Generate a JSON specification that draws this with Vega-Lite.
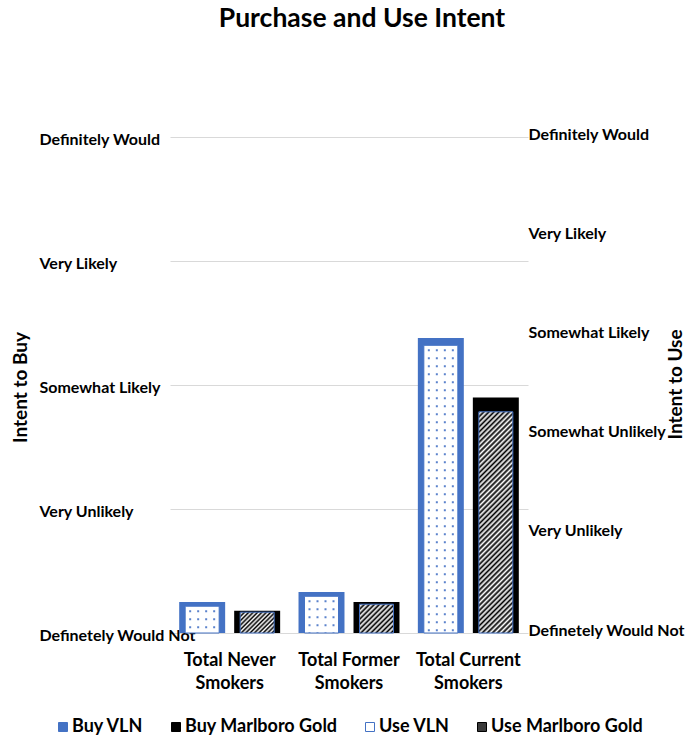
{
  "$schema": "https://vega.github.io/schema/vega-lite/v6.json",
  "autosize": "none",
  "width": 358,
  "height": 496,
  "padding": {"left": 170, "top": 137, "right": 157, "bottom": 105},
  "background": "white",
  "title": {"text": "Purchase and Use Intent", "anchor": "middle", "dx": 13, "offset": 94, "font": "Lato", "fontSize": 26.5, "fontWeight": "bold", "color": "#000000"},
  "data": {"values": [
    {"group": "Total Never Smokers", "brand": "VLN", "measure": "Buy", "series": "Buy VLN", "value": 0.25},
    {"group": "Total Former Smokers", "brand": "VLN", "measure": "Buy", "series": "Buy VLN", "value": 0.33},
    {"group": "Total Current Smokers", "brand": "VLN", "measure": "Buy", "series": "Buy VLN", "value": 2.38},
    {"group": "Total Never Smokers", "brand": "Marlboro Gold", "measure": "Buy", "series": "Buy Marlboro Gold", "value": 0.18},
    {"group": "Total Former Smokers", "brand": "Marlboro Gold", "measure": "Buy", "series": "Buy Marlboro Gold", "value": 0.25},
    {"group": "Total Current Smokers", "brand": "Marlboro Gold", "measure": "Buy", "series": "Buy Marlboro Gold", "value": 1.90},
    {"group": "Total Never Smokers", "brand": "VLN", "measure": "Use", "series": "Use VLN", "value": 0.27},
    {"group": "Total Former Smokers", "brand": "VLN", "measure": "Use", "series": "Use VLN", "value": 0.37},
    {"group": "Total Current Smokers", "brand": "VLN", "measure": "Use", "series": "Use VLN", "value": 2.90},
    {"group": "Total Never Smokers", "brand": "Marlboro Gold", "measure": "Use", "series": "Use Marlboro Gold", "value": 0.21},
    {"group": "Total Former Smokers", "brand": "Marlboro Gold", "measure": "Use", "series": "Use Marlboro Gold", "value": 0.29},
    {"group": "Total Current Smokers", "brand": "Marlboro Gold", "measure": "Use", "series": "Use Marlboro Gold", "value": 2.23}
  ]},
  "encoding": {
    "x": {
      "field": "group", "type": "nominal",
      "sort": ["Total Never Smokers", "Total Former Smokers", "Total Current Smokers"],
      "scale": {"paddingInner": 0, "paddingOuter": 0},
      "axis": {"title": null, "domain": false, "ticks": false, "tickSize": 0, "labelAngle": 0, "labelPadding": 18, "labelBaseline": "top", "labelLineHeight": 23, "labelFont": "Lato", "labelFontSize": 18, "labelFontWeight": "bold", "labelColor": "#000000",
        "labelExpr": "[replace(datum.label, ' Smokers', ''), 'Smokers']"}
    }
  },
  "layer": [
    {
      "transform": [{"filter": "datum.measure === 'Buy'"}],
      "mark": {"type": "bar", "strokeWidth": 0},
      "encoding": {
        "xOffset": {"field": "brand", "type": "nominal", "sort": ["VLN", "Marlboro Gold"], "scale": {"paddingInner": 0.164, "paddingOuter": 0.167}},
        "y": {"field": "value", "type": "quantitative", "scale": {"domain": [0, 4], "nice": false, "zero": true},
          "axis": {"orient": "left", "values": [0, 1, 2, 3, 4], "grid": true, "gridColor": "#d9d9d9", "gridWidth": 1, "domain": false, "ticks": false, "tickSize": 0,
            "labelAlign": "left", "labelPadding": 131, "labelOffset": 2, "labelBaseline": "middle", "labelFont": "Lato", "labelFontSize": 16, "labelFontWeight": "bold", "labelColor": "#000000",
            "labelExpr": "['Definetely Would Not', 'Very Unlikely', 'Somewhat Likely', 'Very Likely', 'Definitely Would'][datum.value]",
            "title": "Intent to Buy", "titleFont": "Lato", "titleFontSize": 19, "titleFontWeight": "bold", "titleColor": "#000000", "titleAngle": 270, "titleX": -150, "titleY": 250, "titleAlign": "center", "titleBaseline": "middle"}},
        "fill": {"field": "series", "type": "nominal",
          "scale": {"domain": ["Buy VLN", "Buy Marlboro Gold", "Use VLN", "Use Marlboro Gold"], "range": ["#4472C4", "#000000", "#ffffff", "#3a3a3a"]},
          "legend": {"title": null}},
        "stroke": {"field": "series", "type": "nominal",
          "scale": {"domain": ["Buy VLN", "Buy Marlboro Gold", "Use VLN", "Use Marlboro Gold"], "range": ["#4472C4", "#000000", "#4472C4", "#000000"]},
          "legend": {"title": null}}
      }
    },
    {
      "transform": [{"filter": "datum.measure === 'Use'"}],
      "encoding": {
        "y": {"field": "value", "type": "quantitative", "scale": {"domain": [0, 5], "nice": false, "zero": true},
          "axis": {"orient": "right", "values": [0, 1, 2, 3, 4, 5], "grid": false, "domain": false, "ticks": false, "tickSize": 0,
            "labelAlign": "left", "labelPadding": 0, "labelOffset": -3, "labelBaseline": "middle", "labelFont": "Lato", "labelFontSize": 16, "labelFontWeight": "bold", "labelColor": "#000000",
            "labelExpr": "['Definetely Would Not', 'Very Unlikely', 'Somewhat Unlikely', 'Somewhat Likely', 'Very Likely', 'Definitely Would'][datum.value]",
            "title": "Intent to Use", "titleFont": "Lato", "titleFontSize": 19, "titleFontWeight": "bold", "titleColor": "#000000", "titleAngle": 270, "titleX": 147, "titleY": 247, "titleAlign": "center", "titleBaseline": "middle"}}
      },
      "layer": [
        {
          "mark": {"type": "bar", "width": 34, "strokeWidth": 1},
          "encoding": {
            "xOffset": {"field": "brand", "type": "nominal", "sort": ["VLN", "Marlboro Gold"]},
            "fill": {"field": "series", "type": "nominal",
              "condition": [
                {"test": "datum.series === 'Use Marlboro Gold' && datum.group === 'Total Never Smokers'",
                 "value": {"gradient": "linear", "x1": 0, "y1": 0, "x2": 1.173, "y2": 0.7175, "stops": [
                   {"offset": 0, "color": "#000"}, {"offset": 0.04, "color": "#fff"}, {"offset": 0.08, "color": "#000"}, {"offset": 0.12, "color": "#fff"},
                   {"offset": 0.16, "color": "#000"}, {"offset": 0.2, "color": "#fff"}, {"offset": 0.24, "color": "#000"}, {"offset": 0.28, "color": "#fff"},
                   {"offset": 0.32, "color": "#000"}, {"offset": 0.36, "color": "#fff"}, {"offset": 0.4, "color": "#000"}, {"offset": 0.44, "color": "#fff"},
                   {"offset": 0.48, "color": "#000"}, {"offset": 0.52, "color": "#fff"}, {"offset": 0.56, "color": "#000"}, {"offset": 0.6, "color": "#fff"},
                   {"offset": 0.64, "color": "#000"}, {"offset": 0.68, "color": "#fff"}, {"offset": 0.72, "color": "#000"}, {"offset": 0.76, "color": "#fff"},
                   {"offset": 0.8, "color": "#000"}, {"offset": 0.84, "color": "#fff"}, {"offset": 0.88, "color": "#000"}, {"offset": 0.92, "color": "#fff"},
                   {"offset": 0.96, "color": "#000"}, {"offset": 1, "color": "#fff"}]}},
                {"test": "datum.series === 'Use Marlboro Gold' && datum.group === 'Total Former Smokers'",
                 "value": {"gradient": "linear", "x1": 0, "y1": 0, "x2": 1.0759, "y2": 0.9103, "stops": [
                   {"offset": 0, "color": "#000"}, {"offset": 0.04, "color": "#fff"}, {"offset": 0.08, "color": "#000"}, {"offset": 0.12, "color": "#fff"},
                   {"offset": 0.16, "color": "#000"}, {"offset": 0.2, "color": "#fff"}, {"offset": 0.24, "color": "#000"}, {"offset": 0.28, "color": "#fff"},
                   {"offset": 0.32, "color": "#000"}, {"offset": 0.36, "color": "#fff"}, {"offset": 0.4, "color": "#000"}, {"offset": 0.44, "color": "#fff"},
                   {"offset": 0.48, "color": "#000"}, {"offset": 0.52, "color": "#fff"}, {"offset": 0.56, "color": "#000"}, {"offset": 0.6, "color": "#fff"},
                   {"offset": 0.64, "color": "#000"}, {"offset": 0.68, "color": "#fff"}, {"offset": 0.72, "color": "#000"}, {"offset": 0.76, "color": "#fff"},
                   {"offset": 0.8, "color": "#000"}, {"offset": 0.84, "color": "#fff"}, {"offset": 0.88, "color": "#000"}, {"offset": 0.92, "color": "#fff"},
                   {"offset": 0.96, "color": "#000"}, {"offset": 1, "color": "#fff"}]}},
                {"test": "datum.series === 'Use Marlboro Gold' && datum.group === 'Total Current Smokers'",
                 "value": {"gradient": "linear", "x1": 0, "y1": 0, "x2": 0.1733, "y2": 1.1271, "stops": [
                   {"offset": 0, "color": "#000"}, {"offset": 0.01, "color": "#fff"}, {"offset": 0.02, "color": "#000"}, {"offset": 0.03, "color": "#fff"},
                   {"offset": 0.04, "color": "#000"}, {"offset": 0.05, "color": "#fff"}, {"offset": 0.06, "color": "#000"}, {"offset": 0.07, "color": "#fff"},
                   {"offset": 0.08, "color": "#000"}, {"offset": 0.09, "color": "#fff"}, {"offset": 0.1, "color": "#000"}, {"offset": 0.11, "color": "#fff"},
                   {"offset": 0.12, "color": "#000"}, {"offset": 0.13, "color": "#fff"}, {"offset": 0.14, "color": "#000"}, {"offset": 0.15, "color": "#fff"},
                   {"offset": 0.16, "color": "#000"}, {"offset": 0.17, "color": "#fff"}, {"offset": 0.18, "color": "#000"}, {"offset": 0.19, "color": "#fff"},
                   {"offset": 0.2, "color": "#000"}, {"offset": 0.21, "color": "#fff"}, {"offset": 0.22, "color": "#000"}, {"offset": 0.23, "color": "#fff"},
                   {"offset": 0.24, "color": "#000"}, {"offset": 0.25, "color": "#fff"}, {"offset": 0.26, "color": "#000"}, {"offset": 0.27, "color": "#fff"},
                   {"offset": 0.28, "color": "#000"}, {"offset": 0.29, "color": "#fff"}, {"offset": 0.3, "color": "#000"}, {"offset": 0.31, "color": "#fff"},
                   {"offset": 0.32, "color": "#000"}, {"offset": 0.33, "color": "#fff"}, {"offset": 0.34, "color": "#000"}, {"offset": 0.35, "color": "#fff"},
                   {"offset": 0.36, "color": "#000"}, {"offset": 0.37, "color": "#fff"}, {"offset": 0.38, "color": "#000"}, {"offset": 0.39, "color": "#fff"},
                   {"offset": 0.4, "color": "#000"}, {"offset": 0.41, "color": "#fff"}, {"offset": 0.42, "color": "#000"}, {"offset": 0.43, "color": "#fff"},
                   {"offset": 0.44, "color": "#000"}, {"offset": 0.45, "color": "#fff"}, {"offset": 0.46, "color": "#000"}, {"offset": 0.47, "color": "#fff"},
                   {"offset": 0.48, "color": "#000"}, {"offset": 0.49, "color": "#fff"}, {"offset": 0.5, "color": "#000"}, {"offset": 0.51, "color": "#fff"},
                   {"offset": 0.52, "color": "#000"}, {"offset": 0.53, "color": "#fff"}, {"offset": 0.54, "color": "#000"}, {"offset": 0.55, "color": "#fff"},
                   {"offset": 0.56, "color": "#000"}, {"offset": 0.57, "color": "#fff"}, {"offset": 0.58, "color": "#000"}, {"offset": 0.59, "color": "#fff"},
                   {"offset": 0.6, "color": "#000"}, {"offset": 0.61, "color": "#fff"}, {"offset": 0.62, "color": "#000"}, {"offset": 0.63, "color": "#fff"},
                   {"offset": 0.64, "color": "#000"}, {"offset": 0.65, "color": "#fff"}, {"offset": 0.66, "color": "#000"}, {"offset": 0.67, "color": "#fff"},
                   {"offset": 0.68, "color": "#000"}, {"offset": 0.69, "color": "#fff"}, {"offset": 0.7, "color": "#000"}, {"offset": 0.71, "color": "#fff"},
                   {"offset": 0.72, "color": "#000"}, {"offset": 0.73, "color": "#fff"}, {"offset": 0.74, "color": "#000"}, {"offset": 0.75, "color": "#fff"},
                   {"offset": 0.76, "color": "#000"}, {"offset": 0.77, "color": "#fff"}, {"offset": 0.78, "color": "#000"}, {"offset": 0.79, "color": "#fff"},
                   {"offset": 0.8, "color": "#000"}, {"offset": 0.81, "color": "#fff"}, {"offset": 0.82, "color": "#000"}, {"offset": 0.83, "color": "#fff"},
                   {"offset": 0.84, "color": "#000"}, {"offset": 0.85, "color": "#fff"}, {"offset": 0.86, "color": "#000"}, {"offset": 0.87, "color": "#fff"},
                   {"offset": 0.88, "color": "#000"}, {"offset": 0.89, "color": "#fff"}, {"offset": 0.9, "color": "#000"}, {"offset": 0.91, "color": "#fff"},
                   {"offset": 0.92, "color": "#000"}, {"offset": 0.93, "color": "#fff"}, {"offset": 0.94, "color": "#000"}, {"offset": 0.95, "color": "#fff"},
                   {"offset": 0.96, "color": "#000"}, {"offset": 0.97, "color": "#fff"}, {"offset": 0.98, "color": "#000"}, {"offset": 0.99, "color": "#fff"},
                   {"offset": 1, "color": "#000"}]}}
              ]},
            "stroke": {"field": "series", "type": "nominal",
              "condition": {"test": "datum.series === 'Use Marlboro Gold'", "value": "#4472C4"}}
          }
        },
        {
          "transform": [{"filter": "datum.series === 'Use VLN'"}],
          "mark": {"type": "rule", "xOffset": -39.5, "stroke": "#5b82cc", "strokeWidth": 2, "strokeDash": [2, 6], "strokeDashOffset": 4},
          "encoding": {"y2": {"datum": 0}}
        },
        {
          "transform": [{"filter": "datum.series === 'Use VLN'"}],
          "mark": {"type": "rule", "xOffset": -31.5, "stroke": "#5b82cc", "strokeWidth": 2, "strokeDash": [2, 6], "strokeDashOffset": 4},
          "encoding": {"y2": {"datum": 0}}
        },
        {
          "transform": [{"filter": "datum.series === 'Use VLN'"}],
          "mark": {"type": "rule", "xOffset": -23.5, "stroke": "#5b82cc", "strokeWidth": 2, "strokeDash": [2, 6], "strokeDashOffset": 4},
          "encoding": {"y2": {"datum": 0}}
        },
        {
          "transform": [{"filter": "datum.series === 'Use VLN'"}],
          "mark": {"type": "rule", "xOffset": -15.5, "stroke": "#5b82cc", "strokeWidth": 2, "strokeDash": [2, 6], "strokeDashOffset": 4},
          "encoding": {"y2": {"datum": 0}}
        }
      ]
    }
  ],
  "resolve": {"scale": {"y": "independent"}},
  "config": {
    "view": {"stroke": null},
    "legend": {"orient": "none", "legendX": -116, "legendY": 581, "direction": "horizontal", "columns": 4, "padding": 0,
      "symbolType": "square", "symbolSize": 81, "symbolStrokeWidth": 1, "labelFont": "Lato", "labelFontSize": 18, "labelFontWeight": "bold", "labelColor": "#000000",
      "columnPadding": 23, "labelOffset": 0}
  }
}
